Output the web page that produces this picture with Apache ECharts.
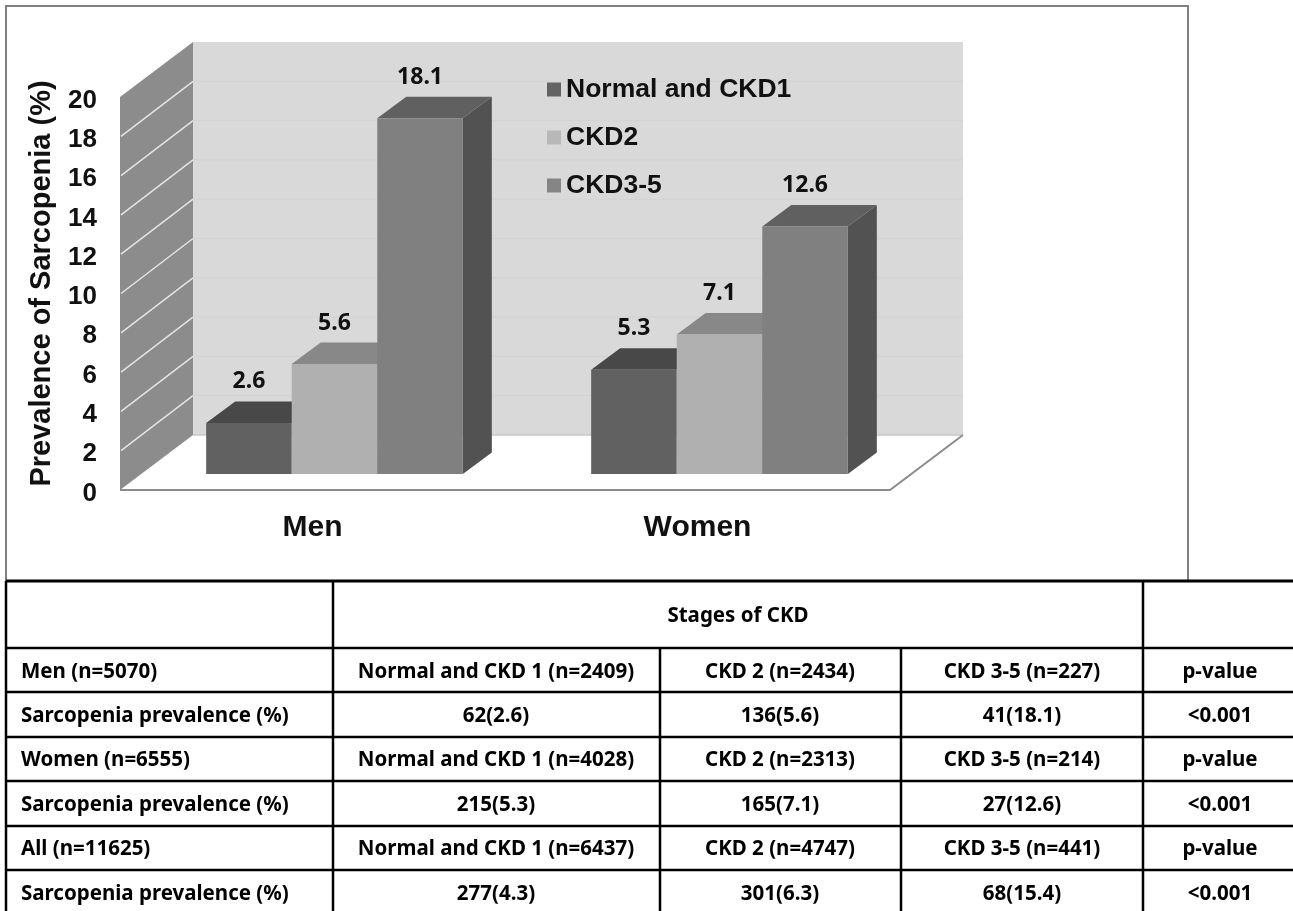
<!DOCTYPE html>
<html>
<head>
<meta charset="utf-8">
<style>html,body{margin:0;padding:0;background:#fff}#c{width:1293px;height:911px}</style>
<script src="https://cdn.jsdelivr.net/npm/echarts@6/dist/echarts.min.js"></script>
</head>
<body>
<div id="c"></div>
<script>
// ---- data ----
const categories = ['Men', 'Women'];
const seriesNames = ['Normal and CKD1', 'CKD2', 'CKD3-5'];
const normalCkd1 = [2.6, 5.3];
const ckd2 = [5.6, 7.1];
const ckd35 = [18.1, 12.6];
const yTicks = [0, 2, 4, 6, 8, 10, 12, 14, 16, 18, 20];

const tableHeading = 'Stages of CKD';
const rowLabels = ['Men (n=5070)', 'Sarcopenia prevalence (%)', 'Women (n=6555)', 'Sarcopenia prevalence (%)', 'All (n=11625)', 'Sarcopenia prevalence (%)'];
const colNormal = ['Normal and CKD 1 (n=2409)', '62(2.6)', 'Normal and CKD 1 (n=4028)', '215(5.3)', 'Normal and CKD 1 (n=6437)', '277(4.3)'];
const colCkd2 = ['CKD 2 (n=2434)', '136(5.6)', 'CKD 2 (n=2313)', '165(7.1)', 'CKD 2 (n=4747)', '301(6.3)'];
const colCkd35 = ['CKD 3-5 (n=227)', '41(18.1)', 'CKD 3-5 (n=214)', '27(12.6)', 'CKD 3-5 (n=441)', '68(15.4)'];
const colP = ['p-value', '<0.001', 'p-value', '<0.001', 'p-value', '<0.001'];

// ---- styling ----
const faces = [
  { front: '#616161', top: '#484848', side: '#4a4a4a', mark: '#636363' },
  { front: '#B0B0B0', top: '#888888', side: '#8a8a8a', mark: '#B8B8B8' },
  { front: '#808080', top: '#606060', side: '#525252', mark: '#858585' }
];
const wall = { dx: 73, dy: 55 };
const barInset = { dx: 22, dy: 16 };
const barDepth = { dx: 29, dy: 21.5 };
const labelFont = 'bold 23px "Noto Sans", sans-serif';
const tableFont = 'bold 20.5px "Noto Sans", sans-serif';
const latin = '"Liberation Sans", Arial, sans-serif';

function wallItem(params, api) {
  const cs = params.coordSys;
  const l = cs.x, r = cs.x + cs.width, t = cs.y, b = cs.y + cs.height;
  const d = wall;
  const kids = [
    { type: 'polygon', shape: { points: [[l + d.dx, t - d.dy], [r + d.dx, t - d.dy], [r + d.dx, b - d.dy], [l + d.dx, b - d.dy]] }, style: { fill: '#D9D9D9' } },
    { type: 'polygon', shape: { points: [[l, b], [l + d.dx, b - d.dy], [l + d.dx, t - d.dy], [l, t]] }, style: { fill: '#8C8C8C' } },
    { type: 'polyline', shape: { points: [[l + d.dx, b - d.dy], [r + d.dx, b - d.dy]] }, style: { stroke: '#C8C8C8', lineWidth: 1.5, fill: null } },
    { type: 'polyline', shape: { points: [[l, b], [r, b], [r + d.dx, b - d.dy]] }, style: { stroke: '#8C8C8C', lineWidth: 2, fill: null } }
  ];
  yTicks.forEach(function (v) {
    if (v === 0 || v === 20) return;
    const y = api.coord([0, v])[1];
    kids.push({ type: 'line', shape: { x1: l + d.dx, y1: y - d.dy, x2: r + d.dx, y2: y - d.dy }, style: { stroke: '#D2D2D2', lineWidth: 1 } });
    kids.push({ type: 'line', shape: { x1: l + 1, y1: y, x2: l + d.dx, y2: y - d.dy }, style: { stroke: '#E4E4E4', lineWidth: 1.5 } });
  });
  return { type: 'group', children: kids };
}

function barRenderer(slot) {
  return function (params, api) {
    const cat = api.value(0), v = api.value(1);
    const base = api.coord([cat, 0]), tip = api.coord([cat, v]);
    const w = api.size([1, 0])[0] * 2 / 9;
    const x0 = base[0] + barInset.dx + (slot - 1.5) * w, x1 = x0 + w;
    const y0 = base[1] - barInset.dy, y1 = tip[1] - barInset.dy;
    const f = faces[slot], dx = barDepth.dx, dy = barDepth.dy;
    return {
      type: 'group',
      children: [
        { type: 'polygon', shape: { points: [[x1, y0], [x1 + dx, y0 - dy], [x1 + dx, y1 - dy], [x1, y1]] }, style: { fill: f.side } },
        { type: 'polygon', shape: { points: [[x0, y1], [x0 + dx, y1 - dy], [x1 + dx, y1 - dy], [x1, y1]] }, style: { fill: f.top } },
        { type: 'rect', shape: { x: x0, y: y1, width: w, height: y0 - y1 }, style: { fill: f.front } },
        { type: 'text', style: { x: (x0 + x1) / 2, y: y1 - 41, text: String(v), textAlign: 'center', textVerticalAlign: 'middle', font: labelFont, fill: '#111' } }
      ]
    };
  };
}

function barSeries(name, values, slot) {
  return {
    type: 'custom', name: name, clip: false, z: 3,
    itemStyle: { color: faces[slot].mark },
    renderItem: barRenderer(slot),
    encode: { x: 0, y: 1 },
    data: values.map(function (v, i) { return [i, v]; })
  };
}

// ---- table + frame drawn with graphic elements ----
const rowY = [672, 716, 760, 805, 849, 894];
const ruleY = [648, 692, 737, 781, 826, 870];
const columns = [
  { texts: colNormal, x: 496 },
  { texts: colCkd2, x: 780 },
  { texts: colCkd35, x: 1022 },
  { texts: colP, x: 1220 }
];
function rule(x1, y1, x2, y2, w, c) {
  return { type: 'line', shape: { x1: x1, y1: y1, x2: x2, y2: y2 }, style: { stroke: c || '#000', lineWidth: w } };
}
function cell(text, x, y, align) {
  return { type: 'text', x: x, y: y, style: { text: text, textAlign: align, textVerticalAlign: 'middle', font: tableFont, fill: '#000' } };
}
const els = [
  { type: 'polyline', shape: { points: [[6, 581], [6, 6], [1188, 6], [1188, 581]] }, style: { stroke: '#808080', lineWidth: 2, fill: null } },
  rule(6, 581, 1293, 581, 3),
  rule(6, 581, 6, 911, 2.5), rule(333, 581, 333, 911, 2.5), rule(1143, 581, 1143, 911, 2.5),
  rule(660, 648, 660, 911, 2.5), rule(901, 648, 901, 911, 2.5),
  cell(tableHeading, 738, 616, 'center')
];
ruleY.forEach(function (y) { els.push(rule(6, y, 1293, y, 2.5)); });
rowLabels.forEach(function (t, i) { els.push(cell(t, 21, rowY[i], 'left')); });
columns.forEach(function (c) { c.texts.forEach(function (t, i) { els.push(cell(t, c.x, rowY[i], 'center')); }); });

const chart = echarts.init(document.getElementById('c'), null, { renderer: 'canvas' });
chart.setOption({
  animation: false,
  backgroundColor: '#fff',
  grid: { left: 120, top: 97, width: 770, height: 393 },
  legend: {
    orient: 'vertical', left: 542, top: 71, itemWidth: 14, itemHeight: 14, itemGap: 21,
    data: seriesNames.map(function (n) { return { name: n, icon: 'rect' }; }),
    textStyle: { fontFamily: latin, fontWeight: 'bold', fontSize: 26.5, color: '#111' }
  },
  xAxis: {
    type: 'category', data: categories,
    axisLine: { show: false }, axisTick: { show: false },
    axisLabel: { margin: 23, fontFamily: latin, fontWeight: 'bold', fontSize: 30, color: '#111' }
  },
  yAxis: {
    type: 'value', min: 0, max: 20, interval: 2,
    name: 'Prevalence of Sarcopenia (%)', nameLocation: 'middle', nameGap: 64, nameRotate: 90,
    nameTextStyle: { fontFamily: latin, fontWeight: 'bold', fontSize: 29, color: '#111', padding: [0, 0, 0, 20] },
    axisLine: { show: false }, axisTick: { show: false }, splitLine: { show: false },
    axisLabel: { margin: 23, fontFamily: latin, fontWeight: 'bold', fontSize: 26, color: '#111', verticalAlign: 'top', lineHeight: 7 }
  },
  graphic: { elements: els },
  series: [
    { type: 'custom', name: 'walls', clip: false, z: 1, silent: true, renderItem: wallItem, encode: { x: 0, y: 1 }, data: [[0, 0]] },
    barSeries(seriesNames[0], normalCkd1, 0),
    barSeries(seriesNames[1], ckd2, 1),
    barSeries(seriesNames[2], ckd35, 2)
  ]
});
</script>
</body>
</html>
